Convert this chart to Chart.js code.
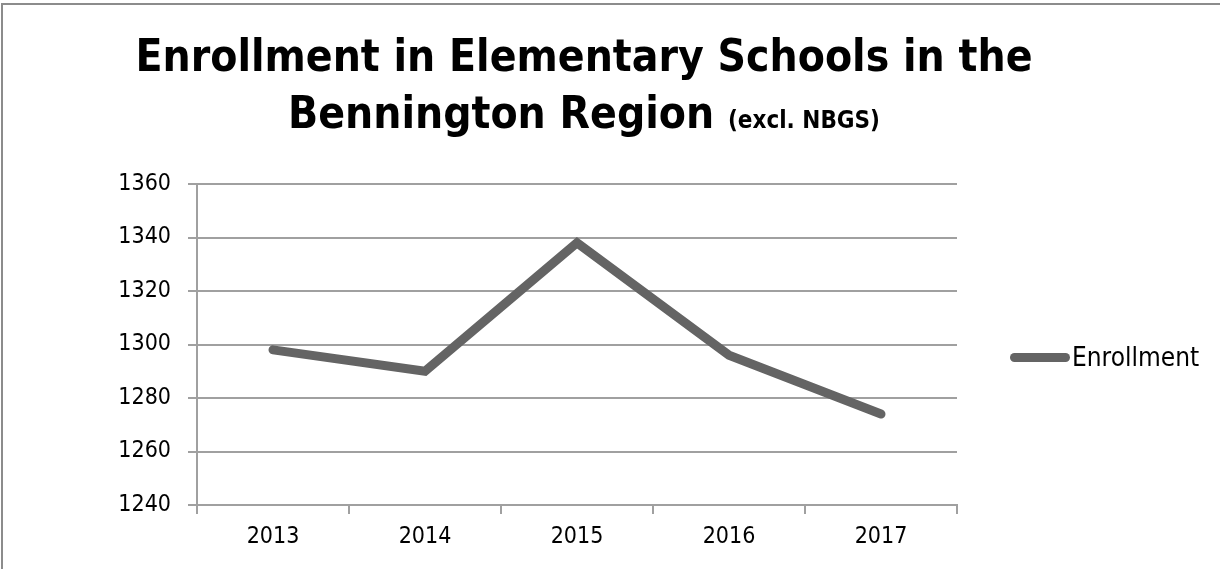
<!DOCTYPE html>
<html><head><meta charset="utf-8">
<script src="https://cdn.jsdelivr.net/npm/chart.js@4"></script>
<style>
html,body{margin:0;padding:0;background:#fff;}
#wrap{position:relative;width:1220px;height:569px;overflow:hidden;background:#fff;}
#frame{position:absolute;left:1px;top:3px;width:1300px;height:700px;border-top:2px solid #8c8c8c;border-left:2px solid #8c8c8c;}
#title{position:absolute;left:0;top:27px;width:1168px;text-align:center;font-family:"DejaVu Sans Condensed","DejaVu Sans",sans-serif;font-weight:bold;font-size:44px;line-height:57px;color:#000;}
#title .sub{font-size:24px;}
#c{position:absolute;left:0;top:0;}
#legend{position:absolute;left:1010px;top:343px;height:28px;display:flex;align-items:center;font-family:"DejaVu Sans Condensed","DejaVu Sans",sans-serif;font-size:26px;color:#000;}
#legend .sw{width:60px;height:9px;border-radius:4.5px;background:#646464;margin-right:2px;}
</style>
</head><body>
<div id="wrap">
<div id="frame"></div>
<canvas id="c" width="1220" height="569"></canvas>
<div id="title">Enrollment in Elementary Schools in the<br>Bennington Region <span class="sub">(excl. NBGS)</span></div>
<div id="legend"><div class="sw"></div><span>Enrollment</span></div>
</div>
<script>
const categories = ['2013', '2014', '2015', '2016', '2017'];
const enrollment = [1298, 1290, 1338, 1296, 1274];
const seriesName = 'Enrollment';
const yMin = 1240, yMax = 1360, yStep = 20;

const tickFont = {family: '"DejaVu Sans Condensed","DejaVu Sans",sans-serif', size: 23};
const gridColor = '#a0a0a0';

new Chart(document.getElementById('c'), {
  type: 'line',
  data: {
    labels: categories,
    datasets: [{
      label: seriesName,
      data: enrollment,
      borderColor: '#646464',
      backgroundColor: '#646464',
      borderWidth: 9,
      borderCapStyle: 'round',
      borderJoinStyle: 'miter',
      pointRadius: 0,
      pointHoverRadius: 0,
      tension: 0,
      fill: false
    }]
  },
  options: {
    responsive: false,
    animation: false,
    devicePixelRatio: 1,
    layout: {padding: {top: 184, right: 263, bottom: 0, left: 0}},
    plugins: {legend: {display: false}, title: {display: false}, tooltip: {enabled: false}},
    scales: {
      x: {
        type: 'category',
        offset: true,
        grid: {offset: true, drawOnChartArea: false, color: gridColor, lineWidth: 2, tickLength: 9},
        border: {color: gridColor, width: 2},
        ticks: {font: tickFont, color: '#000', padding: 9, maxRotation: 0},
        afterFit: s => { s.height = 64; }
      },
      y: {
        min: yMin, max: yMax,
        ticks: {stepSize: yStep, font: tickFont, color: '#000', padding: 17, callback: v => String(v)},
        grid: {color: gridColor, lineWidth: 2, tickLength: 9},
        border: {color: gridColor, width: 2},
        afterFit: s => { s.width = 197; }
      }
    }
  }
});
</script>
</body></html>
